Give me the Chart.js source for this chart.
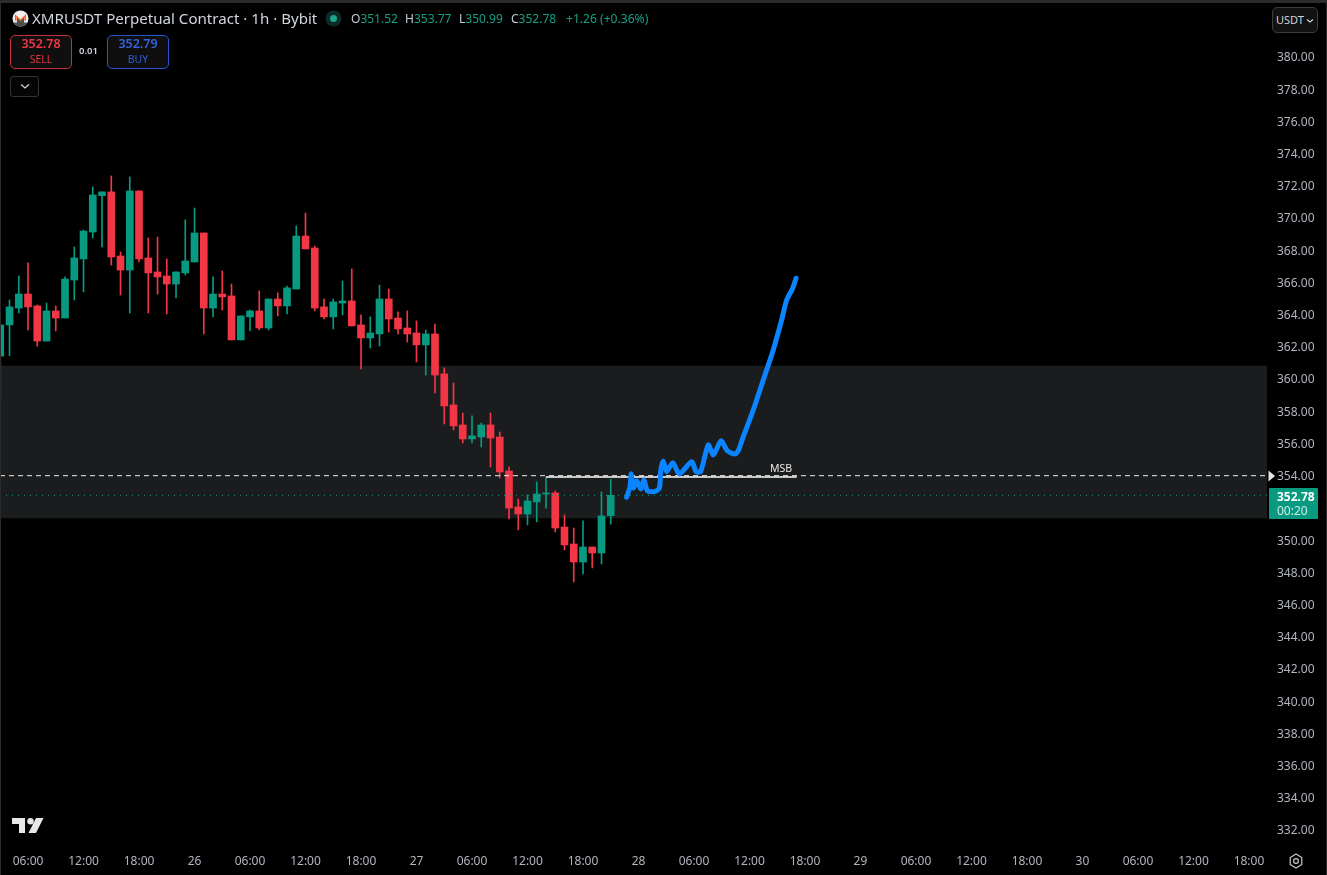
<!DOCTYPE html>
<html>
<head>
<meta charset="utf-8">
<title>XMRUSDT Perpetual Contract</title>
<script src="https://cdn.jsdelivr.net/npm/chart.js@4"></script>
<style>
html,body{margin:0;padding:0;background:#000;}
body{width:1327px;height:875px;overflow:hidden;position:relative;font-family:"Noto Sans","Open Sans",sans-serif;}
canvas{position:absolute;left:0;top:0;}
.t{position:absolute;white-space:nowrap;line-height:1;}
.box{position:absolute;box-sizing:border-box;border-radius:5px;background:#0f0f0f;}
.frame{position:absolute;background:#2b2b2b;}
</style>
</head>
<body>
<canvas id="c" width="1327" height="875"></canvas>

<div class="frame" style="left:0;top:0;width:1327px;height:3px"></div>
<div class="frame" style="left:0;top:0;width:1px;height:875px"></div>
<div class="frame" style="left:1326px;top:0;width:1px;height:875px"></div>

<svg style="position:absolute;left:12px;top:10px" width="17" height="17" viewBox="0 0 17 17">
  <circle cx="8.5" cy="8.5" r="8" fill="#f0f0f0"/>
  <path d="M1.6 12.6 H5 V7.6 L8.5 11 L12 7.6 V12.6 H15.4 A8 8 0 0 1 1.6 12.6Z" fill="#4c4c4c"/>
  <path d="M3 10.8 V4.2 L8.5 9.2 L14 4.2 V10.8 H12.4 V7.6 L8.5 11 L4.6 7.6 V10.8Z" fill="#f26822"/>
</svg>
<div class="t" style="left:32px;top:11px;font-size:15.1px;color:#d1d4dc" id="title">XMRUSDT Perpetual Contract · 1h · Bybit</div>
<svg style="position:absolute;left:325px;top:10px" width="17" height="17"><circle cx="8.5" cy="8.5" r="8" fill="#0c2b26"/><circle cx="8.5" cy="8.5" r="3.5" fill="#1fa58d"/></svg>
<div class="t" style="left:351px;top:13px;font-size:12px;color:#c8cbd2">O<span style="color:#16a085">351.52</span></div>
<div class="t" style="left:405px;top:13px;font-size:12px;color:#c8cbd2">H<span style="color:#16a085">353.77</span></div>
<div class="t" style="left:459px;top:13px;font-size:12px;color:#c8cbd2">L<span style="color:#16a085">350.99</span></div>
<div class="t" style="left:511px;top:13px;font-size:12px;color:#c8cbd2">C<span style="color:#16a085">352.78</span></div>
<div class="t" style="left:566px;top:13px;font-size:12.1px;color:#16a085">+1.26 (+0.36%)</div>

<div class="box" style="left:10px;top:35px;width:62px;height:34px;border:1px solid #c9303e"></div>
<div class="t" style="left:10px;width:62px;text-align:center;top:38px;font-size:12.5px;font-weight:600;color:#f23645">352.78</div>
<div class="t" style="left:10px;width:62px;text-align:center;top:54px;font-size:10.5px;color:#e0343f">SELL</div>
<div class="t" style="left:79px;top:46px;font-size:9.5px;font-weight:600;color:#d1d4dc">0.01</div>
<div class="box" style="left:107px;top:35px;width:62px;height:34px;border:1px solid #2a52d0"></div>
<div class="t" style="left:107px;width:62px;text-align:center;top:38px;font-size:12.5px;font-weight:600;color:#3563e0">352.79</div>
<div class="t" style="left:107px;width:62px;text-align:center;top:54px;font-size:10.5px;color:#2f5cd8">BUY</div>
<div class="box" style="left:10px;top:76px;width:29px;height:21px;border:1px solid #333;background:#050505;border-radius:3px"></div>
<svg style="position:absolute;left:20px;top:83px" width="10" height="7"><path d="M1 1.5 L5 5 L9 1.5" stroke="#d1d4dc" stroke-width="1.3" fill="none"/></svg>

<div class="box" style="left:1272px;top:7px;width:46px;height:26px;border:1px solid #3c3c3c;background:#121212"></div>
<div class="t" style="left:1276px;top:14px;font-size:11px;color:#d1d4dc">USDT</div>
<svg style="position:absolute;left:1306px;top:18px" width="8" height="6"><path d="M1 1.5 L4 4 L7 1.5" stroke="#d1d4dc" stroke-width="1.1" fill="none"/></svg>

<svg style="position:absolute;left:1268px;top:470px" width="8" height="12"><path d="M0.5 0.5 L7 6 L0.5 11.5Z" fill="#e6e6e6"/></svg>
<div style="position:absolute;left:1269px;top:488px;width:49px;height:31px;background:#089981;border-radius:1px"></div>
<div class="t" style="left:1277px;top:491px;font-size:12px;font-weight:700;color:#fff">352.78</div>
<div class="t" style="left:1277px;top:505px;font-size:12px;color:#c9efe6">00:20</div>

<svg style="position:absolute;left:12px;top:818px" width="32" height="16" viewBox="0 0 32 16">
  <path d="M0 0 H13 V15 H7 V6 H0Z" fill="#e8e8e8"/>
  <circle cx="18.5" cy="3.2" r="3.2" fill="#e8e8e8"/>
  <path d="M24 0 H31.5 L24 15 H16.5Z" fill="#e8e8e8"/>
</svg>
<svg style="position:absolute;left:1288px;top:853px" width="16" height="16" viewBox="0 0 16 16">
  <path d="M8 1 L13.8 4.5 V11.5 L8 15 L2.2 11.5 V4.5Z" fill="none" stroke="#c5c8cf" stroke-width="1.2" stroke-linejoin="round"/>
  <circle cx="8" cy="8" r="2.4" fill="none" stroke="#c5c8cf" stroke-width="1.2"/>
</svg>

<script>
// Hour index: 0 = 06:00 on the 25th
const startIndex = -3;
const openPrices = [361.43,363.36,364.41,365.28,364.54,362.36,364.23,363.79,366.15,367.46,369.13,371.39,371.62,367.64,366.77,371.68,367.52,366.65,366.40,365.90,366.59,367.27,369.07,364.41,365.28,365.16,362.43,363.86,364.23,363.17,364.97,364.54,365.59,368.88,368.14,364.48,363.86,364.72,364.85,363.36,362.55,362.80,364.97,363.79,363.17,362.86,362.12,362.80,360.32,358.39,357.15,356.28,356.40,357.15,356.40,354.29,352.06,351.62,352.37,352.86,352.93,350.81,349.76,348.64,349.57,349.20,351.52];
const highPrices = [363.36,364.91,366.40,367.21,364.60,364.72,364.54,366.34,368.20,369.26,371.93,371.62,372.61,367.89,372.55,371.68,368.76,368.82,367.46,366.65,369.88,370.62,369.07,366.34,366.71,365.90,363.92,364.29,365.47,364.97,365.35,365.78,369.51,370.31,368.26,364.97,364.97,366.09,366.84,363.98,363.86,365.84,365.59,364.17,364.23,363.61,363.05,363.42,360.69,359.76,357.89,357.71,357.27,357.89,356.71,354.54,352.55,352.80,353.61,353.92,353.05,351.56,350.75,351.19,349.57,352.99,353.77];
const lowPrices = [358.76,361.45,364.10,363.05,362.05,362.36,362.99,363.79,364.91,365.41,368.76,368.20,367.08,365.22,364.10,367.27,364.10,365.28,364.04,365.03,366.46,367.27,362.80,363.86,364.29,362.43,362.43,362.99,363.05,363.05,363.92,364.04,365.59,368.08,364.23,363.73,363.11,363.98,363.30,360.63,361.93,362.05,362.92,362.80,362.30,361.06,360.25,359.14,357.21,356.84,356.03,356.03,355.78,354.54,353.86,351.31,350.63,350.94,351.13,351.99,350.50,349.39,347.40,347.90,348.27,348.52,350.99];
const closePrices = [363.36,364.48,365.28,364.48,362.36,364.23,363.79,366.21,367.52,369.19,371.43,371.62,367.58,366.77,371.68,367.46,366.59,366.34,365.90,366.65,367.33,369.07,364.41,365.28,365.10,362.43,363.92,364.23,363.17,364.97,364.54,365.66,368.88,368.08,364.41,363.86,364.79,364.85,363.30,362.55,362.86,364.97,363.73,363.11,362.80,362.12,362.80,360.25,358.33,357.09,356.28,356.47,357.15,356.34,354.23,351.99,351.62,352.43,352.86,352.93,350.75,349.70,348.64,349.57,349.20,351.50,352.78];

const sketchHours = [64.72,65.08,65.22,65.44,65.81,66.24,66.59,66.95,67.68,68.25,68.41,68.68,69.05,69.70,70.41,71.75,72.22,72.72,73.54,74.09,74.92,75.60,76.43,76.79,77.33,78.41,79.49,80.57,81.48,82.02,82.67,83.03];
const sketchPrices = [352.66,353.32,354.11,353.24,353.69,353.17,353.73,353.07,353.01,353.22,354.35,354.90,354.25,354.81,354.11,354.87,354.25,354.25,355.91,355.29,356.16,355.55,355.35,355.55,356.42,358.08,359.94,361.81,363.67,364.91,365.64,366.26];

const zoneRange = [351.37, 360.81];
const dashedLevel = 354.00;
const lastPrice = 352.78;
const msbLevel = 353.92;
const msbHours = [56, 83.1];
const msbLabelHour = 81.4;

const xTickLabels = ["06:00","12:00","18:00","26","06:00","12:00","18:00","27","06:00","12:00","18:00","28","06:00","12:00","18:00","29","06:00","12:00","18:00","30","06:00","12:00","18:00"];
const yTickValues = [332,334,336,338,340,342,344,346,348,350,354,356,358,360,362,364,366,368,370,372,374,376,378,380];

const UP = '#089981', DOWN = '#f23645';
const xMin = -3.03, xMax = 133.95, yMin = 331.006, yMax = 383.35;

const hours = openPrices.map((_, i) => startIndex + i);
const candleColors = openPrices.map((o, i) => closePrices[i] >= o ? UP : DOWN);

const labelPlugin = {
  id: 'msbLabel',
  afterDatasetsDraw(chart) {
    const {ctx, scales: {x, y}} = chart;
    ctx.save();
    ctx.fillStyle = '#e8e8e8';
    ctx.font = '10.5px "Noto Sans"';
    ctx.textAlign = 'center';
    ctx.textBaseline = 'bottom';
    ctx.fillText('MSB', x.getPixelForValue(msbLabelHour), y.getPixelForValue(msbLevel) - 3);
    ctx.restore();
  }
};

new Chart(document.getElementById('c'), {
  type: 'bar',
  plugins: [labelPlugin],
  data: {
    datasets: [
      { label:'Zone', data:[{x:(xMin+xMax)/2, y:zoneRange}], backgroundColor:'#1b1c1e', barThickness:1300, grouped:false, order:9 },
      { label:'Wick', data:hours.map((h,i)=>({x:h,y:[lowPrices[i],highPrices[i]]})), backgroundColor:candleColors, barThickness:1, grouped:false, order:6 },
      { label:'Body', data:hours.map((h,i)=>({x:h,y:[Math.min(openPrices[i],closePrices[i]),Math.max(openPrices[i],closePrices[i])]})), backgroundColor:candleColors, barThickness:7, minBarLength:1, grouped:false, order:5 },
      { type:'line', label:'Level', data:[{x:xMin,y:dashedLevel},{x:xMax,y:dashedLevel}], borderColor:'#f0f0f0', borderWidth:1, borderDash:[5,4], pointRadius:0, order:3 },
      { type:'line', label:'Last', data:[{x:xMin,y:lastPrice},{x:xMax,y:lastPrice}], borderColor:'#0f9d84', borderWidth:1, borderDash:[1,5], pointRadius:0, order:3 },
      { type:'line', label:'MSB', data:msbHours.map(h=>({x:h,y:msbLevel})), borderColor:'#ffffff', borderWidth:1.5, pointRadius:0, order:2 },
      { type:'line', label:'Sketch', data:sketchHours.map((h,i)=>({x:h,y:sketchPrices[i]})), borderColor:'#0a84ff', borderWidth:5, borderCapStyle:'round', borderJoinStyle:'round', tension:0.25, pointRadius:0, order:1 }
    ]
  },
  options: {
    responsive:false, animation:false,
    layout:{padding:{top:3,left:0,right:0,bottom:0}},
    plugins:{legend:{display:false},tooltip:{enabled:false}},
    scales:{
      x:{
        type:'linear', min:xMin, max:xMax, offset:false,
        grid:{display:false,drawTicks:false}, border:{display:false},
        afterBuildTicks(s){ s.ticks = xTickLabels.map((_,k)=>({value:k*6})); },
        afterFit(s){ s.height = 29; s.paddingLeft = 0; s.paddingRight = 0; },
        ticks:{autoSkip:false,maxRotation:0,padding:8,color:'#b2b5be',font:{family:'"Noto Sans"',size:12},callback:(v,i)=>xTickLabels[i]}
      },
      y:{
        type:'linear', position:'right', min:yMin, max:yMax,
        grid:{display:false,drawTicks:false}, border:{display:false},
        afterBuildTicks(s){ s.ticks = yTickValues.map(v=>({value:v})); },
        afterFit(s){ s.width = 60; s.paddingTop = 0; s.paddingBottom = 0; },
        ticks:{autoSkip:false,padding:10,labelOffset:1,color:'#b2b5be',font:{family:'"Noto Sans"',size:12},callback:v=>v.toFixed(2)}
      }
    }
  }
});
</script>
</body>
</html>
